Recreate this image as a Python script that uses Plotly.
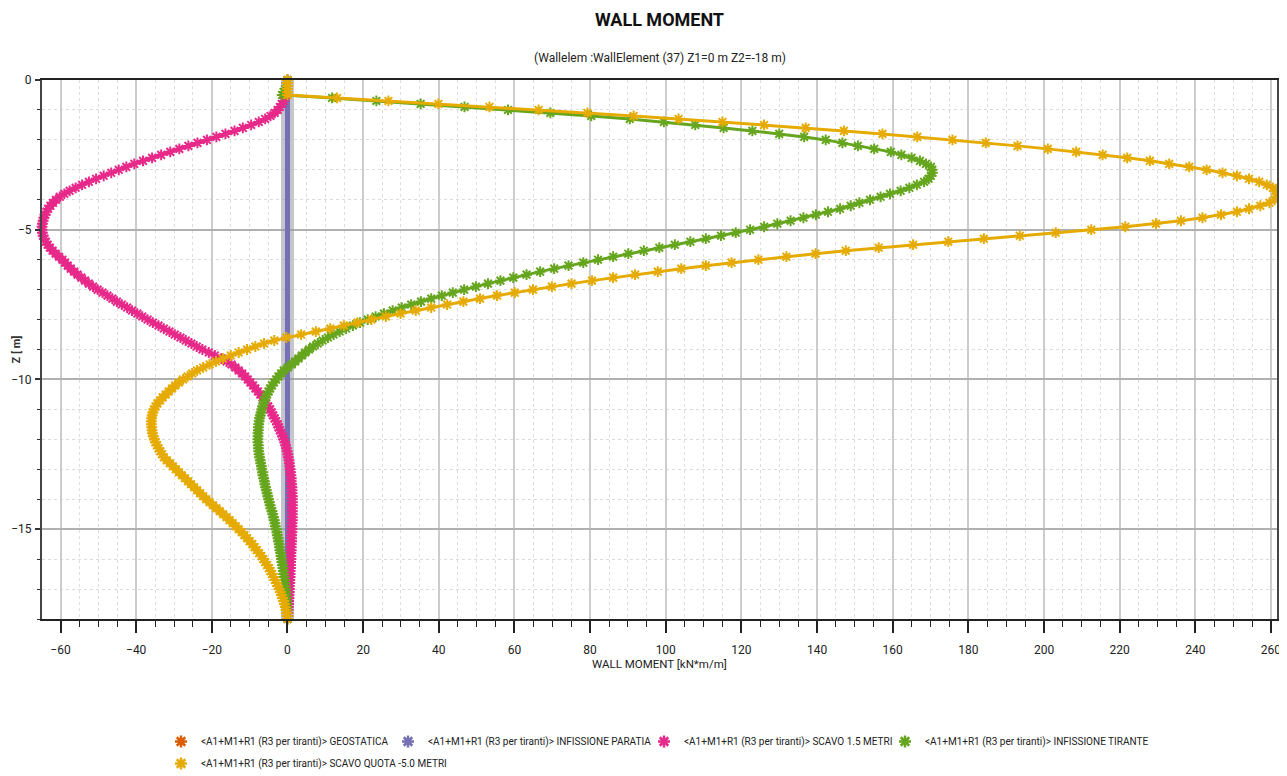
import plotly.graph_objects as go

# ---------------- data ----------------
DEPTH = [
    0.0, -0.1, -0.2, -0.3, -0.4, -0.5, -0.6, -0.7, -0.8, -0.9, -1.0,
    -1.1, -1.2, -1.3, -1.4, -1.5, -1.6, -1.7, -1.8, -1.9, -2.0,
    -2.1, -2.2, -2.3, -2.4, -2.5, -2.6, -2.7, -2.8, -2.9, -3.0,
    -3.1, -3.2, -3.3, -3.4, -3.5, -3.6, -3.7, -3.8, -3.9, -4.0,
    -4.1, -4.2, -4.3, -4.4, -4.5, -4.6, -4.7, -4.8, -4.9, -5.0,
    -5.1, -5.2, -5.3, -5.4, -5.5, -5.6, -5.7, -5.8, -5.9, -6.0,
    -6.1, -6.2, -6.3, -6.4, -6.5, -6.6, -6.7, -6.8, -6.9, -7.0,
    -7.1, -7.2, -7.3, -7.4, -7.5, -7.6, -7.7, -7.8, -7.9, -8.0,
    -8.1, -8.2, -8.3, -8.4, -8.5, -8.6, -8.7, -8.8, -8.9, -9.0,
    -9.1, -9.2, -9.3, -9.4, -9.5, -9.6, -9.7, -9.8, -9.9, -10.0,
    -10.1, -10.2, -10.3, -10.4, -10.5, -10.6, -10.7, -10.8, -10.9, -11.0,
    -11.1, -11.2, -11.3, -11.4, -11.5, -11.6, -11.7, -11.8, -11.9, -12.0,
    -12.1, -12.2, -12.3, -12.4, -12.5, -12.6, -12.7, -12.8, -12.9, -13.0,
    -13.1, -13.2, -13.3, -13.4, -13.5, -13.6, -13.7, -13.8, -13.9, -14.0,
    -14.1, -14.2, -14.3, -14.4, -14.5, -14.6, -14.7, -14.8, -14.9, -15.0,
    -15.1, -15.2, -15.3, -15.4, -15.5, -15.6, -15.7, -15.8, -15.9, -16.0,
    -16.1, -16.2, -16.3, -16.4, -16.5, -16.6, -16.7, -16.8, -16.9, -17.0,
    -17.1, -17.2, -17.3, -17.4, -17.5, -17.6, -17.7, -17.8, -17.9, -18.0,
]

GEOSTATICA = [
    0, 0, 0, 0, 0, 0, 0, 0, 0, 0, 0,
    0, 0, 0, 0, 0, 0, 0, 0, 0, 0,
    0, 0, 0, 0, 0, 0, 0, 0, 0, 0,
    0, 0, 0, 0, 0, 0, 0, 0, 0, 0,
    0, 0, 0, 0, 0, 0, 0, 0, 0, 0,
    0, 0, 0, 0, 0, 0, 0, 0, 0, 0,
    0, 0, 0, 0, 0, 0, 0, 0, 0, 0,
    0, 0, 0, 0, 0, 0, 0, 0, 0, 0,
    0, 0, 0, 0, 0, 0, 0, 0, 0, 0,
    0, 0, 0, 0, 0, 0, 0, 0, 0, 0,
    0, 0, 0, 0, 0, 0, 0, 0, 0, 0,
    0, 0, 0, 0, 0, 0, 0, 0, 0, 0,
    0, 0, 0, 0, 0, 0, 0, 0, 0, 0,
    0, 0, 0, 0, 0, 0, 0, 0, 0, 0,
    0, 0, 0, 0, 0, 0, 0, 0, 0, 0,
    0, 0, 0, 0, 0, 0, 0, 0, 0, 0,
    0, 0, 0, 0, 0, 0, 0, 0, 0, 0,
    0, 0, 0, 0, 0, 0, 0, 0, 0, 0,
]

INFISSIONE_PARATIA = [
    0, 0, 0, 0, 0, 0, 0, 0, 0, 0, 0,
    0, 0, 0, 0, 0, 0, 0, 0, 0, 0,
    0, 0, 0, 0, 0, 0, 0, 0, 0, 0,
    0, 0, 0, 0, 0, 0, 0, 0, 0, 0,
    0, 0, 0, 0, 0, 0, 0, 0, 0, 0,
    0, 0, 0, 0, 0, 0, 0, 0, 0, 0,
    0, 0, 0, 0, 0, 0, 0, 0, 0, 0,
    0, 0, 0, 0, 0, 0, 0, 0, 0, 0,
    0, 0, 0, 0, 0, 0, 0, 0, 0, 0,
    0, 0, 0, 0, 0, 0, 0, 0, 0, 0,
    0, 0, 0, 0, 0, 0, 0, 0, 0, 0,
    0, 0, 0, 0, 0, 0, 0, 0, 0, 0,
    0, 0, 0, 0, 0, 0, 0, 0, 0, 0,
    0, 0, 0, 0, 0, 0, 0, 0, 0, 0,
    0, 0, 0, 0, 0, 0, 0, 0, 0, 0,
    0, 0, 0, 0, 0, 0, 0, 0, 0, 0,
    0, 0, 0, 0, 0, 0, 0, 0, 0, 0,
    0, 0, 0, 0, 0, 0, 0, 0, 0, 0,
]

SCAVO_1_5 = [
    0.0, -0.1, -0.1, -0.2, -0.3, -0.5, -0.8, -1.1, -1.5, -2.0, -2.6,
    -3.4, -4.5, -5.9, -7.6, -9.6, -11.8, -14.0, -16.4, -18.8, -21.3,
    -23.8, -26.2, -28.6, -31.0, -33.4, -35.8, -38.2, -40.5, -42.6, -44.6,
    -46.6, -48.6, -50.6, -52.5, -54.3, -56.0, -57.6, -59.0, -60.2, -61.2,
    -62.0, -62.7, -63.3, -63.7, -64.1, -64.4, -64.6, -64.8, -64.9, -64.9,
    -64.8, -64.6, -64.3, -63.9, -63.4, -62.8, -62.1, -61.3, -60.4, -59.5,
    -58.8, -58.1, -57.3, -56.4, -55.5, -54.5, -53.5, -52.5, -51.4, -50.2,
    -48.9, -47.6, -46.3, -45.1, -43.8, -42.4, -41.1, -39.7, -38.4, -37.0,
    -35.6, -34.1, -32.7, -31.2, -29.8, -28.3, -26.9, -25.4, -24.0, -22.5,
    -20.8, -19.2, -17.5, -16.1, -14.8, -13.8, -12.9, -12.0, -11.2, -10.5,
    -9.8, -9.1, -8.5, -7.8, -7.2, -6.6, -6.1, -5.6, -5.1, -4.6,
    -4.2, -3.8, -3.4, -3.0, -2.6, -2.3, -2.0, -1.6, -1.3, -1.0,
    -0.7, -0.5, -0.3, -0.1, 0.1, 0.2, 0.4, 0.5, 0.6, 0.7,
    0.8, 0.9, 1.0, 1.0, 1.1, 1.2, 1.2, 1.2, 1.3, 1.3,
    1.3, 1.3, 1.3, 1.3, 1.3, 1.3, 1.3, 1.2, 1.2, 1.2,
    1.2, 1.1, 1.1, 1.1, 1.0, 1.0, 1.0, 0.9, 0.9, 0.9,
    0.8, 0.8, 0.8, 0.7, 0.7, 0.7, 0.6, 0.6, 0.5, 0.5,
    0.5, 0.4, 0.4, 0.3, 0.3, 0.2, 0.2, 0.1, 0.1, 0.0,
]

INFISSIONE_TIRANTE = [
    0.0, -0.1, -0.3, -0.6, -1.0, -1.4, 11.8, 23.5, 35.2, 46.8, 58.3,
    69.5, 80.3, 90.5, 99.5, 107.8, 115.3, 122.9, 130.0, 136.6, 142.3,
    146.7, 150.8, 155.1, 159.5, 162.3, 165.0, 167.2, 168.8, 170.1, 170.4,
    170.5, 170.1, 169.5, 168.3, 166.4, 164.4, 162.1, 159.3, 156.8, 154.0,
    151.2, 148.9, 146.1, 142.9, 139.7, 136.4, 133.0, 129.5, 126.0, 122.3,
    118.5, 114.6, 110.6, 106.5, 102.4, 98.3, 94.2, 90.1, 86.1, 82.1,
    78.2, 74.3, 70.5, 66.8, 63.2, 59.7, 56.3, 53.0, 49.8, 46.7,
    43.7, 40.8, 38.0, 35.3, 32.7, 30.2, 27.8, 25.5, 23.3, 21.2,
    19.2, 17.3, 15.5, 13.8, 12.2, 10.7, 9.3, 8.0, 6.8, 5.7,
    4.7, 3.8, 2.9, 2.0, 1.1, 0.1, -1.0, -1.7, -2.4, -3.0,
    -3.6, -4.1, -4.6, -5.0, -5.4, -5.8, -6.1, -6.3, -6.6, -6.8,
    -7.0, -7.2, -7.4, -7.5, -7.6, -7.7, -7.7, -7.8, -7.8, -7.8,
    -7.8, -7.7, -7.7, -7.6, -7.5, -7.4, -7.2, -7.1, -6.9, -6.8,
    -6.6, -6.5, -6.3, -6.1, -6.0, -5.8, -5.6, -5.4, -5.2, -5.0,
    -4.8, -4.6, -4.4, -4.1, -3.9, -3.7, -3.5, -3.3, -3.2, -3.0,
    -2.8, -2.7, -2.5, -2.4, -2.2, -2.1, -2.0, -1.8, -1.7, -1.6,
    -1.5, -1.3, -1.2, -1.1, -1.0, -0.9, -0.8, -0.7, -0.6, -0.5,
    -0.4, -0.4, -0.3, -0.3, -0.2, -0.2, -0.1, -0.1, 0.0, 0.0,
]

SCAVO_QUOTA_5 = [
    0.0, 0.0, 0.0, 0.0, 0.0, 0.0, 13.1, 26.7, 39.9, 53.4, 66.4,
    79.3, 91.5, 103.4, 115.0, 126.0, 137.0, 147.1, 157.3, 166.5, 175.8,
    184.6, 193.0, 201.0, 208.5, 215.5, 222.0, 228.0, 233.1, 238.4, 243.0,
    247.2, 251.0, 254.2, 256.9, 258.9, 260.5, 261.3, 261.6, 261.5, 261.0,
    259.6, 257.2, 254.2, 251.0, 246.8, 241.9, 236.2, 229.6, 221.5, 212.5,
    203.1, 193.6, 184.1, 174.7, 165.4, 156.3, 147.6, 139.6, 131.9, 124.5,
    117.4, 110.6, 104.1, 97.9, 91.9, 86.1, 80.5, 75.1, 69.9, 64.9,
    60.1, 55.4, 50.9, 46.5, 42.2, 38.0, 33.9, 29.9, 26.0, 22.2,
    18.5, 14.9, 11.3, 7.5, 3.6, -0.3, -3.5, -6.2, -8.5, -10.7,
    -12.9, -15.0, -17.1, -18.9, -20.6, -22.3, -23.9, -25.2, -26.4, -27.6,
    -28.7, -29.7, -30.5, -31.4, -32.2, -33.0, -33.7, -34.4, -34.9, -35.3,
    -35.6, -35.8, -35.9, -36.0, -36.0, -35.9, -35.8, -35.7, -35.5, -35.2,
    -34.9, -34.5, -34.1, -33.6, -33.2, -32.7, -31.9, -31.1, -30.3, -29.5,
    -28.7, -27.9, -27.1, -26.3, -25.5, -24.7, -23.9, -23.1, -22.3, -21.5,
    -20.6, -19.7, -18.8, -17.9, -17.0, -16.1, -15.3, -14.5, -13.7, -12.9,
    -12.1, -11.4, -10.7, -10.0, -9.3, -8.7, -8.1, -7.5, -6.9, -6.4,
    -5.9, -5.4, -4.9, -4.5, -4.1, -3.7, -3.3, -2.9, -2.6, -2.2,
    -1.9, -1.6, -1.3, -1.0, -0.8, -0.6, -0.4, -0.2, -0.1, 0.0,
]

SERIES_NAMES = [
    "<A1+M1+R1 (R3 per tiranti)> GEOSTATICA",
    "<A1+M1+R1 (R3 per tiranti)> INFISSIONE PARATIA",
    "<A1+M1+R1 (R3 per tiranti)> SCAVO 1.5 METRI",
    "<A1+M1+R1 (R3 per tiranti)> INFISSIONE TIRANTE",
    "<A1+M1+R1 (R3 per tiranti)> SCAVO QUOTA -5.0 METRI",
]
COLORS = ["#D95F02", "#7570B3", "#E7298A", "#66A61E", "#E6AB02"]

TITLE = "WALL MOMENT"
SUBTITLE = "(Wallelem :WallElement (37) Z1=0 m Z2=-18 m)"
X_TITLE = "WALL MOMENT [kN*m/m]"
Y_TITLE = "Z [\u00a0m]"

for s in (GEOSTATICA, INFISSIONE_PARATIA, SCAVO_1_5, INFISSIONE_TIRANTE, SCAVO_QUOTA_5):
    assert len(s) == len(DEPTH), len(s)

FONT = "Roboto, Liberation Sans, sans-serif"

# ---------------- geometry (window pixels; the page body adds an 8 px offset) ----------------
OFF = 8
W, H = 1287 - OFF, 776 - OFF
PLOT_L, PLOT_R, PLOT_T, PLOT_B = 42, 1277, 80, 619          # plot frame in window pixels
ML, MR, MT, MB = PLOT_L - OFF, W - (PLOT_R - OFF), PLOT_T - OFF, H - (PLOT_B - OFF)
PW, PH = W - ML - MR, H - MT - MB


def px_x(p):
    return (p - OFF - ML) / PW


def px_y(p):
    return (H - MB - (p - OFF)) / PH


fig = go.Figure()

fig.add_trace(go.Scatter(x=GEOSTATICA, y=DEPTH, mode="lines", cliponaxis=False,
                         line=dict(color=COLORS[0], width=4), showlegend=False, hoverinfo="skip"))
fig.add_trace(go.Scatter(x=INFISSIONE_PARATIA, y=DEPTH, mode="lines", cliponaxis=False,
                         line=dict(color="rgba(150,150,165,0.55)", width=13), showlegend=False, hoverinfo="skip"))
fig.add_trace(go.Scatter(x=INFISSIONE_PARATIA, y=DEPTH, mode="lines", cliponaxis=False,
                         line=dict(color=COLORS[1], width=5), showlegend=False))

for vals, col, nm in [(SCAVO_1_5, COLORS[2], SERIES_NAMES[2]),
                      (INFISSIONE_TIRANTE, COLORS[3], SERIES_NAMES[3]),
                      (SCAVO_QUOTA_5, COLORS[4], SERIES_NAMES[4])]:
    fig.add_trace(go.Scatter(
        x=vals, y=DEPTH, mode="lines+markers", name=nm, showlegend=False, cliponaxis=False,
        line=dict(color=col, width=3),
        marker=dict(symbol="asterisk-open", size=9, color=col, line=dict(color=col, width=2)),
    ))

# legend entries: one small legend per entry, placed like the reference (star centre in window px)
LEG_POS = [(181, 740), (408, 740), (664, 740), (905, 740), (181, 762)]
legend_layouts = {}
for i, (nm, col) in enumerate(zip(SERIES_NAMES, COLORS)):
    key = "legend" if i == 0 else "legend%d" % (i + 1)
    fig.add_trace(go.Scatter(
        x=[None], y=[None], mode="markers", name=nm, legend=key,
        marker=dict(symbol="asterisk-open", size=10, color=col, line=dict(color=col, width=2.5)),
    ))
    sx, sy = LEG_POS[i]
    legend_layouts[key] = dict(
        orientation="h", x=px_x(sx - 20), xanchor="left", y=px_y(sy - 13), yanchor="top",
        font=dict(family=FONT, size=10, color="#222"), bgcolor="rgba(0,0,0,0)",
        borderwidth=0,
    )

all_vals = GEOSTATICA + INFISSIONE_PARATIA + SCAVO_1_5 + INFISSIONE_TIRANTE + SCAVO_QUOTA_5
x_min, x_max = min(all_vals), max(all_vals)

fig.update_layout(
    width=W, height=H,
    margin=dict(l=ML, r=MR, t=MT, b=MB, autoexpand=False),
    paper_bgcolor="white", plot_bgcolor="white",
    font=dict(family=FONT, color="#222"),
    title=dict(text="<b>" + TITLE + "</b>", x=0.5, xref="paper", xanchor="center",
               y=1 - (20 - OFF) / H, yref="container", yanchor="middle",
               font=dict(family=FONT, size=18, color="#111")),
    annotations=[
        dict(text=SUBTITLE, xref="paper", yref="paper", x=0.5, y=px_y(58),
             xanchor="center", yanchor="middle", showarrow=False,
             font=dict(family=FONT, size=12, color="#222")),
        dict(text=X_TITLE, xref="paper", yref="paper", x=0.5, y=px_y(664),
             xanchor="center", yanchor="middle", showarrow=False,
             font=dict(family=FONT, size=11.5, color="#222")),
        dict(text="<b>" + Y_TITLE + "</b>", xref="paper", yref="paper", x=px_x(16), y=0.5,
             xanchor="center", yanchor="middle", showarrow=False, textangle=-90,
             font=dict(family=FONT, size=11, color="#333")),
    ],
    **legend_layouts,
)

fig.update_xaxes(
    range=[x_min, x_max], tick0=0, dtick=20, automargin=False,
    ticks="outside", ticklen=12, tickwidth=1.5, tickcolor="#222",
    showgrid=True, gridcolor="#cccccc", gridwidth=1.5,
    minor=dict(dtick=5, ticks="outside", ticklen=6, tickwidth=1.2, tickcolor="#222",
               showgrid=True, gridcolor="#dedede", griddash="dot", gridwidth=1),
    showline=True, linecolor="#222", linewidth=2, mirror=True, zeroline=False,
    tickfont=dict(family=FONT, size=12, color="#222"), ticklabelstandoff=7,
)
fig.update_yaxes(
    range=[-18, 0], tick0=0, dtick=5, automargin=False,
    ticks="outside", ticklen=5, tickwidth=1.5, tickcolor="#333",
    showgrid=True, gridcolor="#b0b0b0", gridwidth=1.5,
    minor=dict(dtick=1, ticks="outside", ticklen=3, tickwidth=1.2, tickcolor="#333",
               showgrid=True, gridcolor="#dcdcdc", griddash="dot", gridwidth=1),
    showline=True, linecolor="#444", linewidth=2, mirror=True, zeroline=False,
    tickfont=dict(family=FONT, size=12, color="#222"), ticklabelstandoff=1,
)

fig.write_html("out.html")
